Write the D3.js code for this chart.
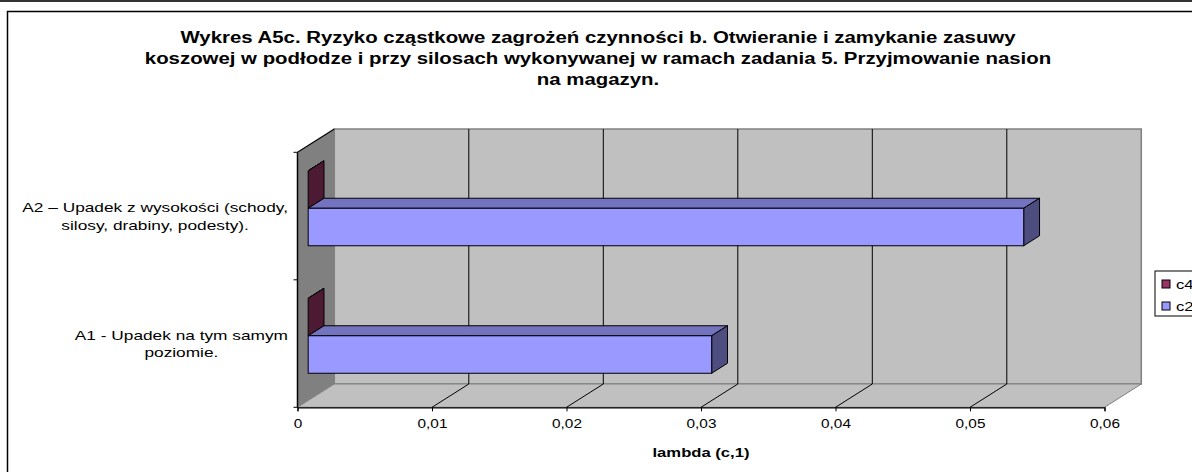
<!DOCTYPE html>
<html>
<head>
<meta charset="utf-8">
<script src="https://cdn.jsdelivr.net/npm/d3@7"></script>
<style>
  body { margin: 0; background: #fff; }
  text { font-family: "Liberation Sans", Arial, sans-serif; }
</style>
</head>
<body>
<script>

// data
var titleLines = [
  "Wykres A5c. Ryzyko cząstkowe zagrożeń czynności b. Otwieranie i zamykanie zasuwy",
  "koszowej w podłodze i przy silosach wykonywanej w ramach zadania 5. Przyjmowanie nasion",
  "na magazyn."
]
var categories = ["A2", "A1"]
var categoryLines = [
  ["A2 – Upadek z wysokości (schody,", "silosy, drabiny, podesty)."],
  ["A1 - Upadek na tym samym", "poziomie."]
]
var series = ["c4", "c2"]
var c4Values = [0, 0]
var c2Values = [0.0532, 0.030]
var xTicks = [0, 0.01, 0.02, 0.03, 0.04, 0.05, 0.06]
var xTitle = "lambda (c,1)"

var values = { c4: c4Values, c2: c2Values }
var colors = {
  c4: { front: "#993366", top: "#732649", side: "#4d1a33" },
  c2: { front: "#9999ff", top: "#7373bf", side: "#4d4d80" }
}

width = 1192
height = 472
// the original picture is stretched sideways, so is the text
sx = 1.28
sxTitle = 1.2

svg = d3.select("body")
    .append("svg")
    .attr("width", width)
    .attr("height", height)

// top strip + chart border
svg.append("rect").attr("x", 0).attr("y", 0).attr("width", width).attr("height", 2).attr("fill", "#333")
svg.append("path")
    .attr("d", "M7.5," + height + "V11.5H" + width)
    .attr("fill", "none")
    .attr("stroke", "#000")
    .attr("stroke-width", 1.5)

// front plane scales, depth vector for the 3d box
var x = d3.scaleLinear().domain([0, 0.06]).range([297.5, 1104.5])
var y = d3.scaleBand().domain(categories).range([152.3, 407.3])
var D = { x: 36.8, y: -23.3 }
var fFront = 0.29, fBack = 0.72
var bw = y.bandwidth()
var s = d3.scaleBand().domain(series).range([bw * 0.198, bw * 0.786])

var top0 = y.range()[0], bot0 = y.range()[1]
var xl = x.range()[0], xr = x.range()[1]

function pts(a) { return a.map(function(p) { return p.join(","); }).join(" "); }
function at(px, py, k) { return "translate(" + px + "," + py + ") scale(" + k + ",1)"; }

// left wall
svg.append("polygon")
    .attr("points", pts([[xl, top0], [xl + D.x, top0 + D.y], [xl + D.x, bot0 + D.y], [xl, bot0]]))
    .attr("fill", "#808080")
// back wall
svg.append("rect")
    .attr("x", xl + D.x).attr("y", top0 + D.y)
    .attr("width", xr - xl).attr("height", bot0 - top0)
    .attr("fill", "#c0c0c0")
    .attr("stroke", "#808080")
    .attr("stroke-width", 1.5)
// floor
svg.append("polygon")
    .attr("points", pts([[xl, bot0], [xl + D.x, bot0 + D.y], [xr + D.x, bot0 + D.y], [xr, bot0]]))
    .attr("fill", "#c0c0c0")
    .attr("stroke", "#808080")
    .attr("stroke-width", 1)

// gridlines on wall and floor
var inner = xTicks.slice(1, -1)
svg.append("g").selectAll("path")
    .data(inner)
    .enter().append("path")
      .attr("d", function(d) {
        return "M" + (x(d) + D.x) + "," + (top0 + D.y) + "V" + (bot0 + D.y) + "L" + x(d) + "," + bot0;
      })
      .attr("fill", "none")
      .attr("stroke", "#000")
      .attr("stroke-width", 1)

// wall top edge
svg.append("path")
    .attr("d", "M" + xl + "," + top0 + "L" + (xl + D.x) + "," + (top0 + D.y))
    .attr("stroke", "#000").attr("stroke-width", 1.2).attr("fill", "none")

// bars
var bars = []
categories.forEach(function(c, i) {
  series.forEach(function(k) { bars.push({ cat: c, key: k, value: values[k][i] }); });
})

var ddx = (fBack - fFront) * D.x, ddy = (fBack - fFront) * D.y
var gb = svg.append("g").attr("class", "bars")
bars.forEach(function(d) {
  var x0 = x(0) + fFront * D.x, x1 = x(d.value) + fFront * D.x
  var y0 = y(d.cat) + s(d.key) + fFront * D.y, y1 = y0 + s.bandwidth()
  var col = colors[d.key]
  gb.append("polygon")
      .attr("points", pts([[x0, y0], [x0 + ddx, y0 + ddy], [x1 + ddx, y0 + ddy], [x1, y0]]))
      .attr("fill", col.top).attr("stroke", "#000").attr("stroke-width", 1)
  gb.append("polygon")
      .attr("points", pts([[x1, y0], [x1 + ddx, y0 + ddy], [x1 + ddx, y1 + ddy], [x1, y1]]))
      .attr("fill", col.side).attr("stroke", "#000").attr("stroke-width", 1)
  gb.append("rect")
      .attr("x", x0).attr("y", y0)
      .attr("width", x1 - x0).attr("height", y1 - y0)
      .attr("fill", col.front).attr("stroke", "#000").attr("stroke-width", 1)
})

// x axis
var gx = svg.append("g").attr("transform", "translate(0," + bot0 + ")")
gx.call(d3.axisBottom(x)
    .tickValues(xTicks)
    .tickSize(4)
    .tickFormat(function(d) { return d === 0 ? "0" : d3.format(".2f")(d).replace(".", ","); }))
gx.select(".domain").attr("stroke", "#000").attr("stroke-width", 1.2)
gx.selectAll("text")
    .attr("font-size", 12)
    .attr("font-family", "Liberation Sans, Arial, sans-serif")
    .attr("fill", "#000")
    .attr("y", 20.5)
    .attr("dy", null)
    .attr("transform", "scale(" + sx + ",1)")

// y axis (front edge)
var gy = svg.append("g").attr("transform", "translate(" + xl + ",0)")
gy.append("path")
    .attr("d", "M0," + top0 + "V" + bot0)
    .attr("stroke", "#000").attr("stroke-width", 1.5)
gy.selectAll("line.tk")
    .data([top0].concat(categories.map(function(c) { return y(c) + bw; })))
    .enter().append("line")
      .attr("class", "tk")
      .attr("x1", -4).attr("x2", 0)
      .attr("y1", function(d) { return d; }).attr("y2", function(d) { return d; })
      .attr("stroke", "#000")

// category labels: block right-aligned, lines centered in block
categories.forEach(function(c, i) {
  var g = svg.append("g")
  var lines = categoryLines[i]
  var cy = y(c) + bw / 2
  var texts = g.selectAll("text")
      .data(lines)
      .enter().append("text")
        .attr("font-size", 13.5)
        .attr("text-anchor", "middle")
        .text(function(d) { return d; })
  var w = 0
  texts.each(function() { w = Math.max(w, this.getComputedTextLength()); })
  texts.attr("transform", function(d, j) { return at(288 - w * sx / 2, cy - 4 + j * 17.5, sx); })
})

// title
svg.append("g").selectAll("text")
    .data(titleLines)
    .enter().append("text")
      .attr("transform", function(d, i) { return at(598, 43 + i * 21, sxTitle); })
      .attr("text-anchor", "middle")
      .attr("font-size", 17)
      .attr("font-weight", "bold")
      .text(function(d) { return d; })

// axis title
svg.append("text")
    .attr("transform", at((xl + xr) / 2, 457, sx))
    .attr("text-anchor", "middle")
    .attr("font-size", 13)
    .attr("font-weight", "bold")
    .text(xTitle)

// legend (cut off at the right edge)
var lg = svg.append("g").attr("transform", "translate(1155,271)")
lg.append("rect")
    .attr("width", 60).attr("height", 45)
    .attr("fill", "#fff").attr("stroke", "#000")
lg.selectAll("rect.sw")
    .data(series)
    .enter().append("rect")
      .attr("class", "sw")
      .attr("x", 7).attr("y", function(d, i) { return 9 + i * 22; })
      .attr("width", 8).attr("height", 8)
      .attr("fill", function(d) { return colors[d].front; })
      .attr("stroke", "#000")
lg.selectAll("text")
    .data(series)
    .enter().append("text")
      .attr("transform", function(d, i) { return at(21, 17.5 + i * 22, sx); })
      .attr("font-size", 13)
      .text(function(d) { return d; })

</script>
</body>
</html>
